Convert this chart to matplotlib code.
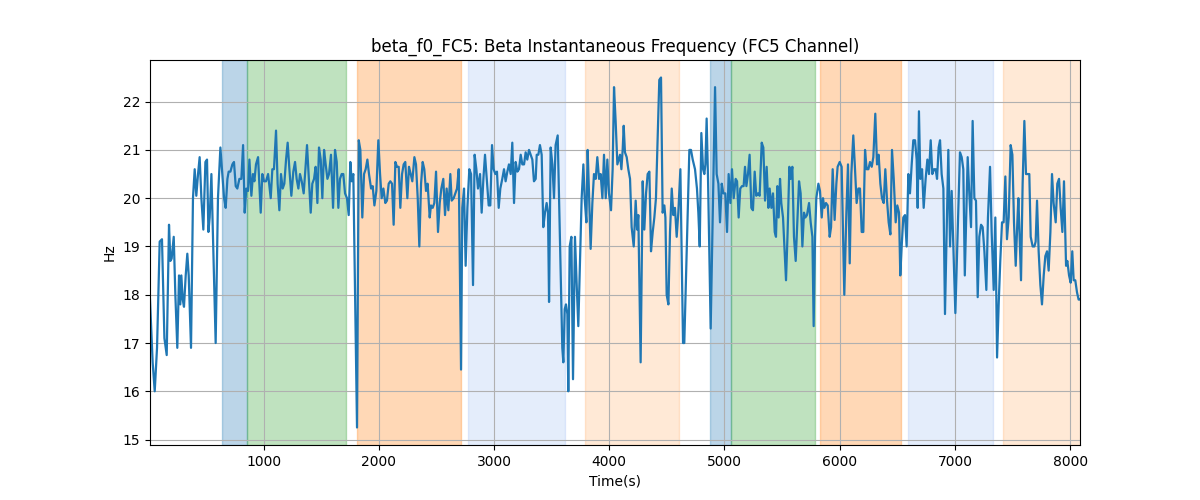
import numpy as np
import matplotlib.pyplot as plt

# Beta instantaneous frequency of FC5
time_s = [
    13, 36, 54, 74, 97, 117, 138, 158, 178, 190, 201, 219, 233, 250, 265, 276, 285, 297, 308, 323,
    337, 349, 369, 386, 401, 415, 430, 444, 459, 476, 494, 508, 520, 531, 546, 583, 603, 624, 638, 656,
    670, 685, 696, 711, 728, 742, 757, 771, 789, 806, 821, 835, 849, 864, 876, 893, 907, 919, 933, 951,
    974, 988, 1003, 1020, 1038,
    1061, 1075, 1089, 1107, 1121, 1136, 1150, 1165, 1179, 1194, 1208, 1223, 1240, 1257, 1272, 1286, 1301,
    1315, 1330, 1347, 1362, 1376, 1390, 1408, 1422, 1437, 1451, 1466, 1480, 1495, 1509, 1524, 1538, 1553,
    1567, 1584, 1602, 1619, 1634, 1648, 1662, 1677, 1691, 1706, 1723, 1738, 1752, 1764, 1778, 1810, 1825,
    1839, 1856, 1871, 1885, 1900, 1914, 1932, 1946, 1961, 1978, 1995, 2010, 2024, 2039,
    2056, 2070, 2085, 2099, 2114, 2128, 2143, 2157, 2172, 2186, 2201, 2215, 2229, 2247, 2261, 2276, 2290,
    2308, 2322, 2337, 2351, 2366, 2380, 2394, 2409, 2423, 2441, 2452, 2467, 2481, 2496, 2513, 2528, 2542,
    2559, 2574, 2588, 2603, 2620, 2632, 2649, 2664, 2678, 2693, 2713, 2724, 2739, 2753, 2768, 2785, 2800,
    2817, 2831, 2846, 2860, 2878, 2892, 2907, 2921, 2936, 2953, 2967, 2982, 2996, 3011, 3025, 3040, 3054,
    3071, 3086, 3100, 3115, 3129, 3144, 3158, 3173, 3187, 3202, 3216, 3231, 3245, 3260, 3274, 3288, 3303,
    3317, 3332, 3346, 3361, 3370, 3384, 3398, 3413, 3427, 3442, 3456, 3468, 3477, 3491, 3506, 3520, 3534,
    3552, 3592, 3601, 3613, 3624, 3636, 3644, 3656, 3671, 3685, 3702, 3717, 3731, 3746, 3760, 3775, 3786,
    3801, 3812, 3824, 3838, 3853, 3867, 3882, 3896, 3911, 3925, 3940, 3954, 3969, 3983, 3997, 4015, 4029,
    4041, 4055, 4070,
    4093, 4105, 4116, 4125, 4136, 4151, 4165, 4180, 4194, 4212, 4229, 4241, 4252, 4272, 4290, 4304, 4319,
    4333, 4348, 4362, 4377, 4391, 4405, 4434, 4449, 4463, 4478, 4487, 4498, 4513, 4527, 4542, 4556, 4570,
    4585, 4599, 4617, 4640, 4651, 4695, 4709, 4724, 4744, 4761, 4773, 4785, 4799, 4814, 4825, 4834, 4845,
    4857, 4880, 4918, 4932, 4947, 4961, 4976, 4990, 5007, 5022, 5036, 5051, 5065, 5080,
    5097, 5109, 5123, 5137, 5152, 5166, 5178, 5190, 5204, 5218, 5233, 5247, 5262, 5276, 5291, 5305, 5323,
    5337, 5352, 5366, 5381, 5392, 5407, 5421, 5436, 5447, 5459, 5470, 5482, 5493, 5508, 5522, 5534, 5548,
    5563, 5574, 5589, 5603, 5618, 5632, 5647, 5661, 5676, 5690, 5702, 5716, 5734, 5748, 5763, 5774, 5786,
    5797, 5815, 5829, 5844, 5855, 5867, 5881, 5896, 5913, 5925, 5939, 5956, 5971, 5982, 6000, 6017, 6040,
    6058, 6072, 6087, 6101,
    6118, 6133, 6147, 6162, 6176, 6191, 6205, 6220, 6234, 6249, 6263, 6278, 6292, 6309, 6324, 6338, 6353,
    6367, 6382, 6396, 6411, 6425, 6440, 6454, 6469, 6486, 6500, 6515, 6526, 6538, 6552, 6567, 6581, 6596,
    6610, 6625, 6639, 6654, 6668, 6677, 6688, 6700, 6715, 6729, 6746, 6761, 6775, 6790, 6804, 6819, 6833,
    6845, 6859, 6871, 6885, 6900, 6914, 6943, 6958, 6972, 7004, 7044, 7059, 7073, 7086, 7111, 7125,
    7140, 7154, 7169, 7183, 7198, 7212, 7227, 7241, 7256, 7273, 7287, 7305, 7319, 7337, 7351, 7366, 7380,
    7394, 7409, 7423, 7438, 7452, 7467, 7484, 7499, 7513, 7528, 7542, 7551, 7562, 7574, 7588, 7603, 7617,
    7632, 7646, 7658, 7675, 7690, 7701, 7713, 7727, 7742, 7756, 7771, 7785, 7800, 7814, 7829, 7843, 7857,
    7875, 7889, 7904, 7918, 7933, 7947, 7965, 7976, 7991, 8005, 8019, 8031, 8045, 8060, 8074, 8086,
]
freq_hz = [
    17.9, 16.6, 16.0, 16.9, 19.1, 19.15, 17.1, 16.75, 19.45, 18.7, 18.75, 19.2, 18.0, 16.9, 18.4, 17.8,
    18.4, 17.9, 17.75, 18.4, 18.85, 18.4, 16.9, 20.0, 20.6, 20.05, 20.5, 20.85, 20.0, 19.35, 20.75, 20.8,
    19.3, 19.6, 20.5, 17.0, 20.0, 21.05, 20.6, 20.0, 19.8, 20.4, 20.55, 20.55, 20.7, 20.75, 20.25, 20.2,
    20.4, 20.4, 21.1, 19.7, 20.2, 20.15, 20.8, 20.05, 20.5, 20.35, 20.7, 20.85, 19.7, 20.5, 20.35, 20.35,
    20.5,
    20.0, 20.6, 20.6, 21.4, 20.3, 19.75, 20.5, 20.2, 20.3, 20.8, 21.15, 20.6, 20.05, 20.55, 20.75, 20.4,
    20.2, 20.5, 20.35, 20.1, 20.6, 21.1, 20.5, 19.7, 20.3, 20.4, 20.65, 19.9, 21.05, 20.8, 20.0, 21.0,
    20.7, 20.4, 20.5, 20.9, 19.8, 21.0, 20.75, 19.8, 20.4, 20.5, 20.5, 20.1, 20.0, 19.65, 20.75, 20.35,
    20.5, 15.25, 21.2, 21.0, 19.6, 20.5, 20.6, 20.8, 20.5, 20.2, 20.25, 19.85, 20.15, 21.2, 20.5, 20.0,
    20.2,
    19.9, 19.95, 20.3, 20.35, 20.3, 19.45, 20.75, 20.65, 20.65, 19.8, 20.5, 20.7, 20.75, 20.0, 20.65, 20.5,
    20.35, 20.85, 20.7, 20.0, 19.0, 20.3, 20.75, 20.6, 20.15, 20.3, 19.6, 19.85, 19.8, 19.9, 20.55, 19.3,
    19.9, 20.2, 20.4, 19.65, 20.2, 19.75, 20.5, 19.95, 20.0, 20.1, 20.2, 20.6, 16.45, 19.8, 20.2, 18.6,
    19.8, 20.6, 20.5, 18.2, 20.9, 20.6, 20.2, 20.5, 19.7, 20.4, 20.9, 20.4, 19.85, 19.85, 21.1, 20.6,
    20.5, 20.55, 19.8, 20.2,
    20.4, 20.6, 20.35, 20.55, 20.7, 20.5, 21.15, 19.9, 20.75, 20.55, 20.6, 20.9, 20.7, 20.7, 20.95, 20.8,
    21.0, 20.9, 20.8, 20.35, 20.4, 20.9, 20.9, 21.1, 20.9, 19.4, 19.7, 19.9, 19.7, 17.85, 21.05, 20.7,
    20.0, 21.1, 21.3, 16.9, 16.6, 17.7, 17.8, 17.6, 16.0, 19.0, 19.2, 16.25, 19.2, 18.2, 17.35, 18.7,
    20.0, 20.7, 20.0, 19.5, 21.0, 20.1, 18.95, 19.9, 20.5, 20.4, 20.85, 20.4, 20.5, 20.0, 20.9, 20.0,
    20.8, 20.1, 19.75, 20.6, 22.3, 21.6, 20.7,
    20.9, 20.6, 21.0, 21.5, 20.95, 20.85, 20.6, 20.4, 19.4, 19.0, 19.95, 19.35, 19.65, 16.6, 20.35, 19.35,
    20.1, 20.5, 20.55, 18.9, 19.3, 19.6, 20.0, 22.45, 22.5, 19.7, 19.85, 19.6, 18.0, 17.8, 19.3, 20.2,
    19.65, 19.8, 19.2, 19.7, 20.6, 17.0, 17.0, 21.0, 21.0, 20.8, 20.6, 20.2, 19.7, 19.0, 21.35, 20.6,
    20.5, 20.7, 21.65, 20.4, 17.3, 22.3, 20.5, 20.3, 19.5, 20.3, 20.1, 20.1, 19.3, 20.5, 19.9, 20.6,
    20.0,
    20.4, 20.35, 19.6, 20.2, 20.25, 20.25, 20.65, 20.25, 20.5, 20.9, 19.8, 19.75, 20.55, 20.05, 20.1, 20.05,
    21.15, 21.05, 19.95, 20.65, 19.8, 20.2, 19.8, 20.1, 19.3, 19.2, 20.25, 19.6, 20.4, 19.9, 19.6, 18.9,
    18.3, 19.3, 20.65, 20.4, 20.65, 19.2, 18.7, 19.5, 20.35, 20.1, 19.0, 19.7, 19.6, 19.65, 19.9, 19.5,
    19.2, 17.35, 19.2, 20.0, 20.3, 20.15, 19.6, 20.0, 19.8, 19.9, 19.85, 19.2, 19.4, 20.6, 19.55, 20.3,
    20.65, 20.75, 20.65, 18.0, 19.7, 20.7, 18.65, 20.5,
    21.3, 20.6, 19.9, 20.2, 20.2, 19.3, 19.3, 21.0, 20.6, 20.6, 20.75, 20.65, 20.85, 21.75, 20.7, 20.9,
    20.3, 20.0, 19.9, 20.6, 19.95, 19.5, 19.25, 21.0, 20.4, 19.5, 19.85, 19.7, 18.4, 19.0, 19.6, 19.65,
    19.0, 20.5, 20.1, 20.7, 21.2, 21.2, 20.8, 19.8, 21.8, 20.4, 20.6, 19.8, 20.4, 20.8, 20.5, 21.2,
    20.5, 20.6, 20.6, 20.4, 21.05, 21.2, 20.5, 20.2, 17.6, 21.0, 19.0, 20.15, 17.62, 20.95, 20.85, 20.6,
    18.4, 20.85, 20.1,
    19.4, 21.6, 20.0, 19.95, 17.95, 19.2, 19.45, 19.4, 18.9, 18.1, 19.6, 20.65, 19.3, 18.1, 19.6, 16.7,
    17.8, 18.7, 19.5, 19.5, 20.45, 19.15, 19.6, 21.1, 20.9, 19.5, 18.6, 19.5, 20.0, 19.2, 18.3, 20.3,
    21.6, 20.5, 20.5, 20.5, 19.2, 19.0, 19.0, 19.1, 19.95, 18.9, 18.2, 17.8, 18.4, 18.8, 18.9, 18.5,
    19.3, 20.5, 19.9, 19.5, 20.3, 20.4, 19.8, 19.3, 20.35, 18.6, 18.7, 18.4, 18.25, 18.9, 18.3, 18.3,
    18.05, 17.9, 17.9,
]

# Shaded task periods
span_start = [638, 855, 1813, 2773, 3789, 4874, 5056, 5826, 6593, 7418]
span_end = [855, 1714, 2713, 3613, 4602, 5056, 5786, 6529, 7328, 8100]
span_color = ["tab:blue", "tab:green", "tab:orange", "cornflowerblue", "tab:orange",
              "tab:blue", "tab:green", "tab:orange", "cornflowerblue", "tab:orange"]
span_alpha = [0.3, 0.3, 0.3, 0.17, 0.17, 0.3, 0.3, 0.3, 0.17, 0.17]

t = np.array(time_s)
hz = np.array(freq_hz)

fig, ax = plt.subplots(figsize=(12, 5), dpi=100)

for s, e, c, a in zip(span_start, span_end, span_color, span_alpha):
    ax.axvspan(s, e, color=c, alpha=a)

ax.plot(t, hz, color="tab:blue", linewidth=1.6)

ax.set_xlim(t[0], t[-1])
ax.set_title("beta_f0_FC5: Beta Instantaneous Frequency (FC5 Channel)")
ax.set_xlabel("Time(s)")
ax.set_ylabel("Hz")
ax.grid(True)

plt.savefig("out.png")
